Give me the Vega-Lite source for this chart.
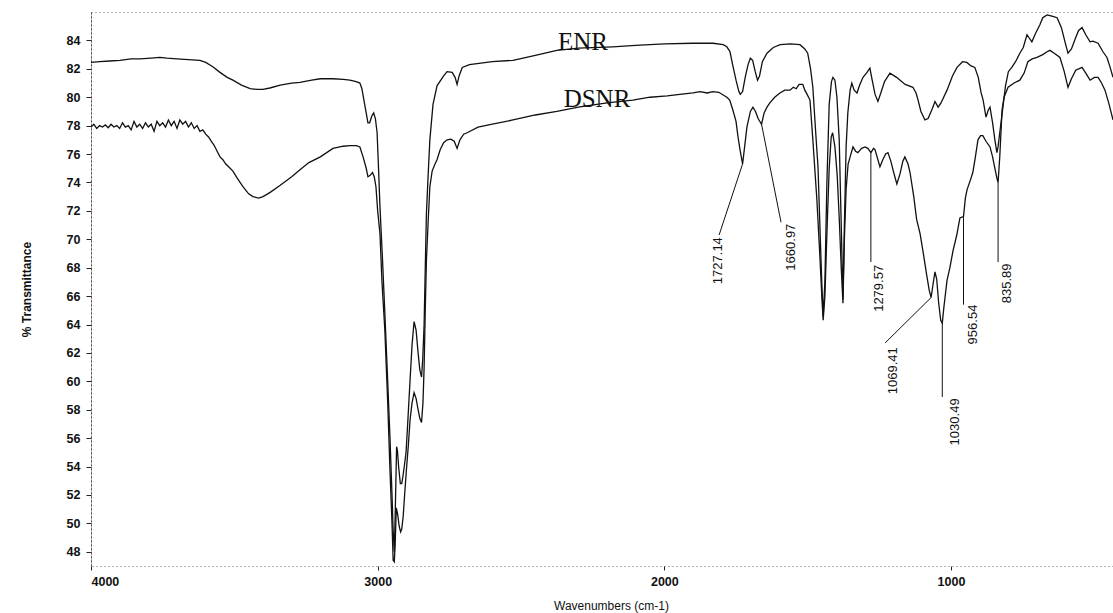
{
  "$schema": "https://vega.github.io/schema/vega-lite/v6.json",
  "width": 1022,
  "height": 554,
  "autosize": {"type": "none"},
  "padding": {"left": 91, "top": 12, "right": 0, "bottom": 47},
  "background": "white",
  "config": {
    "view": {"stroke": "#666", "strokeDash": [1, 3], "strokeWidth": 1},
    "axis": {"grid": false, "labelFont": "Liberation Sans", "titleFont": "Liberation Sans", "labelColor": "#111", "titleColor": "#111", "tickColor": "#222", "domain": false, "labelOverlap": false}
  },
  "datasets": {
    "spectra": [
      {"series": "ENR", "wn": 4000, "t": 82.45}, {"series": "ENR", "wn": 3969, "t": 82.5}, {"series": "ENR", "wn": 3935, "t": 82.55},
      {"series": "ENR", "wn": 3899, "t": 82.6}, {"series": "ENR", "wn": 3860, "t": 82.7}, {"series": "ENR", "wn": 3829, "t": 82.7},
      {"series": "ENR", "wn": 3790, "t": 82.75}, {"series": "ENR", "wn": 3760, "t": 82.8}, {"series": "ENR", "wn": 3735, "t": 82.75},
      {"series": "ENR", "wn": 3700, "t": 82.7}, {"series": "ENR", "wn": 3660, "t": 82.65}, {"series": "ENR", "wn": 3620, "t": 82.6},
      {"series": "ENR", "wn": 3600, "t": 82.45}, {"series": "ENR", "wn": 3575, "t": 82.15}, {"series": "ENR", "wn": 3550, "t": 81.75},
      {"series": "ENR", "wn": 3525, "t": 81.4}, {"series": "ENR", "wn": 3505, "t": 81.2}, {"series": "ENR", "wn": 3475, "t": 80.85},
      {"series": "ENR", "wn": 3445, "t": 80.6}, {"series": "ENR", "wn": 3420, "t": 80.55}, {"series": "ENR", "wn": 3400, "t": 80.55},
      {"series": "ENR", "wn": 3376, "t": 80.65}, {"series": "ENR", "wn": 3340, "t": 80.85}, {"series": "ENR", "wn": 3300, "t": 81.0},
      {"series": "ENR", "wn": 3271, "t": 81.05}, {"series": "ENR", "wn": 3230, "t": 81.2}, {"series": "ENR", "wn": 3200, "t": 81.3},
      {"series": "ENR", "wn": 3156, "t": 81.3}, {"series": "ENR", "wn": 3120, "t": 81.25}, {"series": "ENR", "wn": 3097, "t": 81.2},
      {"series": "ENR", "wn": 3075, "t": 81.1}, {"series": "ENR", "wn": 3062, "t": 81.0}, {"series": "ENR", "wn": 3055, "t": 80.6},
      {"series": "ENR", "wn": 3048, "t": 79.8}, {"series": "ENR", "wn": 3040, "t": 78.9}, {"series": "ENR", "wn": 3034, "t": 78.2},
      {"series": "ENR", "wn": 3028, "t": 78.2}, {"series": "ENR", "wn": 3020, "t": 78.7}, {"series": "ENR", "wn": 3014, "t": 78.9},
      {"series": "ENR", "wn": 3008, "t": 78.5}, {"series": "ENR", "wn": 3002, "t": 77.5}, {"series": "ENR", "wn": 2997, "t": 75.0},
      {"series": "ENR", "wn": 2992, "t": 72.3}, {"series": "ENR", "wn": 2983, "t": 68.5}, {"series": "ENR", "wn": 2975, "t": 64.8},
      {"series": "ENR", "wn": 2965, "t": 60.0}, {"series": "ENR", "wn": 2957, "t": 56.0}, {"series": "ENR", "wn": 2950, "t": 52.0},
      {"series": "ENR", "wn": 2946, "t": 49.5}, {"series": "ENR", "wn": 2942, "t": 48.0}, {"series": "ENR", "wn": 2939, "t": 50.5},
      {"series": "ENR", "wn": 2934, "t": 55.4}, {"series": "ENR", "wn": 2931, "t": 55.1}, {"series": "ENR", "wn": 2927, "t": 54.0},
      {"series": "ENR", "wn": 2921, "t": 52.8}, {"series": "ENR", "wn": 2916, "t": 52.8}, {"series": "ENR", "wn": 2912, "t": 53.3},
      {"series": "ENR", "wn": 2906, "t": 54.2}, {"series": "ENR", "wn": 2901, "t": 55.0}, {"series": "ENR", "wn": 2894, "t": 57.5},
      {"series": "ENR", "wn": 2887, "t": 60.1}, {"series": "ENR", "wn": 2880, "t": 62.6}, {"series": "ENR", "wn": 2873, "t": 64.2},
      {"series": "ENR", "wn": 2866, "t": 63.6}, {"series": "ENR", "wn": 2859, "t": 62.0}, {"series": "ENR", "wn": 2853, "t": 60.8},
      {"series": "ENR", "wn": 2847, "t": 60.3}, {"series": "ENR", "wn": 2843, "t": 61.5}, {"series": "ENR", "wn": 2838, "t": 64.0},
      {"series": "ENR", "wn": 2834, "t": 68.0}, {"series": "ENR", "wn": 2830, "t": 71.8}, {"series": "ENR", "wn": 2824, "t": 74.5},
      {"series": "ENR", "wn": 2818, "t": 77.0}, {"series": "ENR", "wn": 2807, "t": 79.5}, {"series": "ENR", "wn": 2793, "t": 80.8},
      {"series": "ENR", "wn": 2770, "t": 81.5}, {"series": "ENR", "wn": 2758, "t": 81.8}, {"series": "ENR", "wn": 2740, "t": 81.75},
      {"series": "ENR", "wn": 2730, "t": 81.4}, {"series": "ENR", "wn": 2723, "t": 80.9}, {"series": "ENR", "wn": 2716, "t": 81.5},
      {"series": "ENR", "wn": 2705, "t": 82.1}, {"series": "ENR", "wn": 2680, "t": 82.3}, {"series": "ENR", "wn": 2640, "t": 82.4},
      {"series": "ENR", "wn": 2600, "t": 82.5}, {"series": "ENR", "wn": 2528, "t": 82.6}, {"series": "ENR", "wn": 2450, "t": 82.95},
      {"series": "ENR", "wn": 2375, "t": 83.3}, {"series": "ENR", "wn": 2300, "t": 83.45}, {"series": "ENR", "wn": 2180, "t": 83.55},
      {"series": "ENR", "wn": 2100, "t": 83.65}, {"series": "ENR", "wn": 2000, "t": 83.75}, {"series": "ENR", "wn": 1900, "t": 83.8},
      {"series": "ENR", "wn": 1830, "t": 83.8}, {"series": "ENR", "wn": 1795, "t": 83.7}, {"series": "ENR", "wn": 1782, "t": 83.55},
      {"series": "ENR", "wn": 1771, "t": 83.2}, {"series": "ENR", "wn": 1761, "t": 82.2}, {"series": "ENR", "wn": 1750, "t": 81.2},
      {"series": "ENR", "wn": 1740, "t": 80.4}, {"series": "ENR", "wn": 1735, "t": 80.2}, {"series": "ENR", "wn": 1727, "t": 80.4},
      {"series": "ENR", "wn": 1718, "t": 81.4}, {"series": "ENR", "wn": 1708, "t": 82.3}, {"series": "ENR", "wn": 1700, "t": 82.75},
      {"series": "ENR", "wn": 1692, "t": 82.6}, {"series": "ENR", "wn": 1683, "t": 81.8}, {"series": "ENR", "wn": 1675, "t": 81.2},
      {"series": "ENR", "wn": 1668, "t": 81.5}, {"series": "ENR", "wn": 1658, "t": 82.5}, {"series": "ENR", "wn": 1642, "t": 83.1},
      {"series": "ENR", "wn": 1620, "t": 83.5}, {"series": "ENR", "wn": 1596, "t": 83.7}, {"series": "ENR", "wn": 1560, "t": 83.75},
      {"series": "ENR", "wn": 1527, "t": 83.7}, {"series": "ENR", "wn": 1510, "t": 83.4}, {"series": "ENR", "wn": 1500, "t": 83.1},
      {"series": "ENR", "wn": 1490, "t": 82.0}, {"series": "ENR", "wn": 1482, "t": 80.7}, {"series": "ENR", "wn": 1472, "t": 77.5},
      {"series": "ENR", "wn": 1464, "t": 75.1}, {"series": "ENR", "wn": 1456, "t": 70.0}, {"series": "ENR", "wn": 1450, "t": 66.5},
      {"series": "ENR", "wn": 1446, "t": 64.6}, {"series": "ENR", "wn": 1440, "t": 67.0}, {"series": "ENR", "wn": 1433, "t": 74.0},
      {"series": "ENR", "wn": 1425, "t": 79.5}, {"series": "ENR", "wn": 1417, "t": 81.1}, {"series": "ENR", "wn": 1412, "t": 81.4},
      {"series": "ENR", "wn": 1405, "t": 81.2}, {"series": "ENR", "wn": 1398, "t": 80.0}, {"series": "ENR", "wn": 1390, "t": 77.0},
      {"series": "ENR", "wn": 1383, "t": 71.0}, {"series": "ENR", "wn": 1377, "t": 65.8}, {"series": "ENR", "wn": 1372, "t": 71.0},
      {"series": "ENR", "wn": 1366, "t": 76.5}, {"series": "ENR", "wn": 1360, "t": 78.9}, {"series": "ENR", "wn": 1352, "t": 80.5},
      {"series": "ENR", "wn": 1346, "t": 81.0}, {"series": "ENR", "wn": 1338, "t": 80.5}, {"series": "ENR", "wn": 1328, "t": 80.3},
      {"series": "ENR", "wn": 1318, "t": 80.9}, {"series": "ENR", "wn": 1307, "t": 81.4}, {"series": "ENR", "wn": 1295, "t": 81.7},
      {"series": "ENR", "wn": 1283, "t": 82.05}, {"series": "ENR", "wn": 1275, "t": 81.2}, {"series": "ENR", "wn": 1265, "t": 80.2},
      {"series": "ENR", "wn": 1255, "t": 79.7}, {"series": "ENR", "wn": 1245, "t": 80.3}, {"series": "ENR", "wn": 1232, "t": 81.1},
      {"series": "ENR", "wn": 1213, "t": 81.7}, {"series": "ENR", "wn": 1190, "t": 81.4}, {"series": "ENR", "wn": 1160, "t": 80.9},
      {"series": "ENR", "wn": 1133, "t": 80.7}, {"series": "ENR", "wn": 1122, "t": 80.3}, {"series": "ENR", "wn": 1115, "t": 79.8},
      {"series": "ENR", "wn": 1105, "t": 79.0}, {"series": "ENR", "wn": 1091, "t": 78.4}, {"series": "ENR", "wn": 1080, "t": 78.5},
      {"series": "ENR", "wn": 1065, "t": 79.2}, {"series": "ENR", "wn": 1056, "t": 79.7}, {"series": "ENR", "wn": 1045, "t": 79.3},
      {"series": "ENR", "wn": 1035, "t": 79.6}, {"series": "ENR", "wn": 1014, "t": 80.5}, {"series": "ENR", "wn": 995, "t": 81.5},
      {"series": "ENR", "wn": 979, "t": 82.1}, {"series": "ENR", "wn": 960, "t": 82.5}, {"series": "ENR", "wn": 945, "t": 82.45},
      {"series": "ENR", "wn": 930, "t": 82.2}, {"series": "ENR", "wn": 917, "t": 82.1}, {"series": "ENR", "wn": 905, "t": 81.4},
      {"series": "ENR", "wn": 895, "t": 80.3}, {"series": "ENR", "wn": 888, "t": 79.8}, {"series": "ENR", "wn": 878, "t": 78.6},
      {"series": "ENR", "wn": 870, "t": 79.1}, {"series": "ENR", "wn": 864, "t": 79.3}, {"series": "ENR", "wn": 855, "t": 78.2},
      {"series": "ENR", "wn": 847, "t": 77.0}, {"series": "ENR", "wn": 840, "t": 76.1}, {"series": "ENR", "wn": 836, "t": 76.5},
      {"series": "ENR", "wn": 830, "t": 77.5}, {"series": "ENR", "wn": 819, "t": 79.3}, {"series": "ENR", "wn": 810, "t": 80.8},
      {"series": "ENR", "wn": 800, "t": 81.8}, {"series": "ENR", "wn": 788, "t": 82.1}, {"series": "ENR", "wn": 775, "t": 82.5},
      {"series": "ENR", "wn": 760, "t": 83.1}, {"series": "ENR", "wn": 748, "t": 83.5}, {"series": "ENR", "wn": 735, "t": 84.4},
      {"series": "ENR", "wn": 725, "t": 84.1}, {"series": "ENR", "wn": 718, "t": 83.9}, {"series": "ENR", "wn": 705, "t": 84.5},
      {"series": "ENR", "wn": 690, "t": 85.1}, {"series": "ENR", "wn": 680, "t": 85.6}, {"series": "ENR", "wn": 665, "t": 85.8},
      {"series": "ENR", "wn": 655, "t": 85.75}, {"series": "ENR", "wn": 645, "t": 85.7}, {"series": "ENR", "wn": 630, "t": 85.6},
      {"series": "ENR", "wn": 615, "t": 84.9}, {"series": "ENR", "wn": 600, "t": 83.7}, {"series": "ENR", "wn": 592, "t": 83.1},
      {"series": "ENR", "wn": 580, "t": 83.4}, {"series": "ENR", "wn": 565, "t": 84.2}, {"series": "ENR", "wn": 555, "t": 84.7},
      {"series": "ENR", "wn": 543, "t": 84.9}, {"series": "ENR", "wn": 530, "t": 84.4}, {"series": "ENR", "wn": 515, "t": 83.9},
      {"series": "ENR", "wn": 505, "t": 83.95}, {"series": "ENR", "wn": 487, "t": 83.8}, {"series": "ENR", "wn": 470, "t": 83.2},
      {"series": "ENR", "wn": 456, "t": 82.8}, {"series": "ENR", "wn": 445, "t": 82.1}, {"series": "ENR", "wn": 435, "t": 81.4},

      {"series": "DSNR", "wn": 4000, "t": 77.9}, {"series": "DSNR", "wn": 3990, "t": 78.1}, {"series": "DSNR", "wn": 3980, "t": 77.8},
      {"series": "DSNR", "wn": 3970, "t": 78.0}, {"series": "DSNR", "wn": 3960, "t": 77.9}, {"series": "DSNR", "wn": 3950, "t": 78.05},
      {"series": "DSNR", "wn": 3940, "t": 77.85}, {"series": "DSNR", "wn": 3930, "t": 78.1}, {"series": "DSNR", "wn": 3920, "t": 77.9},
      {"series": "DSNR", "wn": 3910, "t": 78.0}, {"series": "DSNR", "wn": 3900, "t": 77.8}, {"series": "DSNR", "wn": 3890, "t": 78.2},
      {"series": "DSNR", "wn": 3880, "t": 77.9}, {"series": "DSNR", "wn": 3870, "t": 78.0}, {"series": "DSNR", "wn": 3860, "t": 77.7},
      {"series": "DSNR", "wn": 3850, "t": 78.3}, {"series": "DSNR", "wn": 3840, "t": 77.9}, {"series": "DSNR", "wn": 3830, "t": 78.1},
      {"series": "DSNR", "wn": 3820, "t": 77.8}, {"series": "DSNR", "wn": 3810, "t": 78.2}, {"series": "DSNR", "wn": 3800, "t": 77.9},
      {"series": "DSNR", "wn": 3790, "t": 78.1}, {"series": "DSNR", "wn": 3780, "t": 77.6}, {"series": "DSNR", "wn": 3770, "t": 78.3},
      {"series": "DSNR", "wn": 3760, "t": 78.0}, {"series": "DSNR", "wn": 3750, "t": 78.2}, {"series": "DSNR", "wn": 3740, "t": 77.9},
      {"series": "DSNR", "wn": 3730, "t": 78.4}, {"series": "DSNR", "wn": 3720, "t": 78.0}, {"series": "DSNR", "wn": 3710, "t": 78.3},
      {"series": "DSNR", "wn": 3700, "t": 77.8}, {"series": "DSNR", "wn": 3690, "t": 78.4}, {"series": "DSNR", "wn": 3680, "t": 78.1},
      {"series": "DSNR", "wn": 3670, "t": 78.3}, {"series": "DSNR", "wn": 3660, "t": 77.9}, {"series": "DSNR", "wn": 3650, "t": 78.2},
      {"series": "DSNR", "wn": 3640, "t": 77.8}, {"series": "DSNR", "wn": 3630, "t": 78.0}, {"series": "DSNR", "wn": 3620, "t": 77.6},
      {"series": "DSNR", "wn": 3610, "t": 77.7}, {"series": "DSNR", "wn": 3600, "t": 77.4}, {"series": "DSNR", "wn": 3590, "t": 77.2},
      {"series": "DSNR", "wn": 3580, "t": 76.9}, {"series": "DSNR", "wn": 3570, "t": 76.6}, {"series": "DSNR", "wn": 3560, "t": 76.2},
      {"series": "DSNR", "wn": 3550, "t": 75.8}, {"series": "DSNR", "wn": 3540, "t": 75.6}, {"series": "DSNR", "wn": 3530, "t": 75.3},
      {"series": "DSNR", "wn": 3520, "t": 75.1}, {"series": "DSNR", "wn": 3505, "t": 74.8}, {"series": "DSNR", "wn": 3490, "t": 74.3},
      {"series": "DSNR", "wn": 3470, "t": 73.7}, {"series": "DSNR", "wn": 3450, "t": 73.2}, {"series": "DSNR", "wn": 3435, "t": 73.0},
      {"series": "DSNR", "wn": 3415, "t": 72.9}, {"series": "DSNR", "wn": 3400, "t": 73.0}, {"series": "DSNR", "wn": 3375, "t": 73.3},
      {"series": "DSNR", "wn": 3340, "t": 73.8}, {"series": "DSNR", "wn": 3300, "t": 74.4}, {"series": "DSNR", "wn": 3271, "t": 74.9},
      {"series": "DSNR", "wn": 3240, "t": 75.4}, {"series": "DSNR", "wn": 3200, "t": 75.8}, {"series": "DSNR", "wn": 3156, "t": 76.4},
      {"series": "DSNR", "wn": 3120, "t": 76.55}, {"series": "DSNR", "wn": 3097, "t": 76.6}, {"series": "DSNR", "wn": 3075, "t": 76.6},
      {"series": "DSNR", "wn": 3062, "t": 76.5}, {"series": "DSNR", "wn": 3051, "t": 75.8}, {"series": "DSNR", "wn": 3040, "t": 75.0},
      {"series": "DSNR", "wn": 3034, "t": 74.4}, {"series": "DSNR", "wn": 3026, "t": 74.5}, {"series": "DSNR", "wn": 3018, "t": 74.7},
      {"series": "DSNR", "wn": 3012, "t": 74.4}, {"series": "DSNR", "wn": 3006, "t": 73.7}, {"series": "DSNR", "wn": 3000, "t": 72.0},
      {"series": "DSNR", "wn": 2992, "t": 70.4}, {"series": "DSNR", "wn": 2985, "t": 67.0}, {"series": "DSNR", "wn": 2975, "t": 63.6},
      {"series": "DSNR", "wn": 2965, "t": 58.5}, {"series": "DSNR", "wn": 2957, "t": 53.7}, {"series": "DSNR", "wn": 2950, "t": 50.0},
      {"series": "DSNR", "wn": 2946, "t": 47.4}, {"series": "DSNR", "wn": 2942, "t": 47.3}, {"series": "DSNR", "wn": 2939, "t": 48.5},
      {"series": "DSNR", "wn": 2935, "t": 51.1}, {"series": "DSNR", "wn": 2930, "t": 50.6}, {"series": "DSNR", "wn": 2925, "t": 49.8},
      {"series": "DSNR", "wn": 2920, "t": 49.4}, {"series": "DSNR", "wn": 2916, "t": 49.6}, {"series": "DSNR", "wn": 2911, "t": 50.5},
      {"series": "DSNR", "wn": 2906, "t": 52.0}, {"series": "DSNR", "wn": 2900, "t": 53.7}, {"series": "DSNR", "wn": 2893, "t": 55.5},
      {"series": "DSNR", "wn": 2887, "t": 57.3}, {"series": "DSNR", "wn": 2880, "t": 58.5}, {"series": "DSNR", "wn": 2873, "t": 59.2},
      {"series": "DSNR", "wn": 2866, "t": 58.8}, {"series": "DSNR", "wn": 2859, "t": 58.0}, {"series": "DSNR", "wn": 2853, "t": 57.4},
      {"series": "DSNR", "wn": 2847, "t": 57.1}, {"series": "DSNR", "wn": 2842, "t": 58.5}, {"series": "DSNR", "wn": 2838, "t": 61.0},
      {"series": "DSNR", "wn": 2834, "t": 65.0}, {"series": "DSNR", "wn": 2830, "t": 68.5}, {"series": "DSNR", "wn": 2824, "t": 71.2},
      {"series": "DSNR", "wn": 2818, "t": 73.7}, {"series": "DSNR", "wn": 2810, "t": 74.8}, {"series": "DSNR", "wn": 2800, "t": 75.3},
      {"series": "DSNR", "wn": 2793, "t": 75.6}, {"series": "DSNR", "wn": 2782, "t": 76.3}, {"series": "DSNR", "wn": 2770, "t": 76.8},
      {"series": "DSNR", "wn": 2758, "t": 77.0}, {"series": "DSNR", "wn": 2745, "t": 77.05}, {"series": "DSNR", "wn": 2733, "t": 76.9},
      {"series": "DSNR", "wn": 2723, "t": 76.4}, {"series": "DSNR", "wn": 2713, "t": 77.0}, {"series": "DSNR", "wn": 2700, "t": 77.4},
      {"series": "DSNR", "wn": 2688, "t": 77.5}, {"series": "DSNR", "wn": 2650, "t": 77.9}, {"series": "DSNR", "wn": 2600, "t": 78.1},
      {"series": "DSNR", "wn": 2528, "t": 78.4}, {"series": "DSNR", "wn": 2450, "t": 78.75}, {"series": "DSNR", "wn": 2375, "t": 79.0},
      {"series": "DSNR", "wn": 2300, "t": 79.3}, {"series": "DSNR", "wn": 2200, "t": 79.6}, {"series": "DSNR", "wn": 2110, "t": 79.8},
      {"series": "DSNR", "wn": 2050, "t": 80.0}, {"series": "DSNR", "wn": 1990, "t": 80.1}, {"series": "DSNR", "wn": 1946, "t": 80.2},
      {"series": "DSNR", "wn": 1900, "t": 80.3}, {"series": "DSNR", "wn": 1876, "t": 80.4}, {"series": "DSNR", "wn": 1850, "t": 80.3},
      {"series": "DSNR", "wn": 1831, "t": 80.4}, {"series": "DSNR", "wn": 1810, "t": 80.35}, {"series": "DSNR", "wn": 1782, "t": 80.0},
      {"series": "DSNR", "wn": 1772, "t": 79.8}, {"series": "DSNR", "wn": 1761, "t": 79.1}, {"series": "DSNR", "wn": 1750, "t": 78.3},
      {"series": "DSNR", "wn": 1743, "t": 77.2}, {"series": "DSNR", "wn": 1736, "t": 76.3}, {"series": "DSNR", "wn": 1727.14, "t": 75.3},
      {"series": "DSNR", "wn": 1720, "t": 76.5}, {"series": "DSNR", "wn": 1712, "t": 77.9}, {"series": "DSNR", "wn": 1700, "t": 79.0},
      {"series": "DSNR", "wn": 1691, "t": 79.3}, {"series": "DSNR", "wn": 1682, "t": 79.0}, {"series": "DSNR", "wn": 1673, "t": 78.5},
      {"series": "DSNR", "wn": 1660.97, "t": 78.1}, {"series": "DSNR", "wn": 1652, "t": 78.9}, {"series": "DSNR", "wn": 1642, "t": 79.3},
      {"series": "DSNR", "wn": 1632, "t": 79.6}, {"series": "DSNR", "wn": 1615, "t": 80.0}, {"series": "DSNR", "wn": 1597, "t": 80.3},
      {"series": "DSNR", "wn": 1580, "t": 80.5}, {"series": "DSNR", "wn": 1562, "t": 80.5}, {"series": "DSNR", "wn": 1550, "t": 80.7},
      {"series": "DSNR", "wn": 1540, "t": 80.6}, {"series": "DSNR", "wn": 1530, "t": 80.9}, {"series": "DSNR", "wn": 1517, "t": 80.9},
      {"series": "DSNR", "wn": 1510, "t": 80.5}, {"series": "DSNR", "wn": 1502, "t": 80.2}, {"series": "DSNR", "wn": 1492, "t": 79.8},
      {"series": "DSNR", "wn": 1482, "t": 77.0}, {"series": "DSNR", "wn": 1468, "t": 72.8}, {"series": "DSNR", "wn": 1458, "t": 69.0},
      {"series": "DSNR", "wn": 1450, "t": 65.7}, {"series": "DSNR", "wn": 1446, "t": 64.3}, {"series": "DSNR", "wn": 1440, "t": 66.0},
      {"series": "DSNR", "wn": 1432, "t": 71.0}, {"series": "DSNR", "wn": 1425, "t": 75.0}, {"series": "DSNR", "wn": 1418, "t": 77.2},
      {"series": "DSNR", "wn": 1413, "t": 77.5}, {"series": "DSNR", "wn": 1405, "t": 76.5}, {"series": "DSNR", "wn": 1397, "t": 74.5},
      {"series": "DSNR", "wn": 1390, "t": 71.5}, {"series": "DSNR", "wn": 1383, "t": 68.0}, {"series": "DSNR", "wn": 1377, "t": 65.5},
      {"series": "DSNR", "wn": 1372, "t": 70.0}, {"series": "DSNR", "wn": 1366, "t": 73.5}, {"series": "DSNR", "wn": 1359, "t": 75.3},
      {"series": "DSNR", "wn": 1352, "t": 75.8}, {"series": "DSNR", "wn": 1342, "t": 76.5}, {"series": "DSNR", "wn": 1333, "t": 76.2},
      {"series": "DSNR", "wn": 1325, "t": 76.1}, {"series": "DSNR", "wn": 1312, "t": 76.4}, {"series": "DSNR", "wn": 1300, "t": 76.5},
      {"series": "DSNR", "wn": 1290, "t": 76.4}, {"series": "DSNR", "wn": 1279.57, "t": 76.1}, {"series": "DSNR", "wn": 1270, "t": 76.4},
      {"series": "DSNR", "wn": 1265, "t": 76.3}, {"series": "DSNR", "wn": 1255, "t": 75.6}, {"series": "DSNR", "wn": 1248, "t": 75.1},
      {"series": "DSNR", "wn": 1238, "t": 75.6}, {"series": "DSNR", "wn": 1228, "t": 76.0}, {"series": "DSNR", "wn": 1220, "t": 76.1},
      {"series": "DSNR", "wn": 1210, "t": 75.5}, {"series": "DSNR", "wn": 1200, "t": 74.7}, {"series": "DSNR", "wn": 1189, "t": 73.9},
      {"series": "DSNR", "wn": 1178, "t": 74.6}, {"series": "DSNR", "wn": 1168, "t": 75.5}, {"series": "DSNR", "wn": 1161, "t": 75.8},
      {"series": "DSNR", "wn": 1150, "t": 75.3}, {"series": "DSNR", "wn": 1143, "t": 74.7}, {"series": "DSNR", "wn": 1130, "t": 73.0},
      {"series": "DSNR", "wn": 1120, "t": 71.4}, {"series": "DSNR", "wn": 1108, "t": 70.4}, {"series": "DSNR", "wn": 1095, "t": 68.8},
      {"series": "DSNR", "wn": 1085, "t": 67.5}, {"series": "DSNR", "wn": 1076, "t": 66.4}, {"series": "DSNR", "wn": 1069.41, "t": 65.9},
      {"series": "DSNR", "wn": 1063, "t": 66.8}, {"series": "DSNR", "wn": 1056, "t": 67.7}, {"series": "DSNR", "wn": 1050, "t": 67.2},
      {"series": "DSNR", "wn": 1043, "t": 65.5}, {"series": "DSNR", "wn": 1036, "t": 64.3}, {"series": "DSNR", "wn": 1030.49, "t": 64.1},
      {"series": "DSNR", "wn": 1025, "t": 65.2}, {"series": "DSNR", "wn": 1014, "t": 67.1}, {"series": "DSNR", "wn": 1004, "t": 68.0},
      {"series": "DSNR", "wn": 993, "t": 69.2}, {"series": "DSNR", "wn": 980, "t": 70.3}, {"series": "DSNR", "wn": 969, "t": 71.5},
      {"series": "DSNR", "wn": 956.54, "t": 71.6}, {"series": "DSNR", "wn": 950, "t": 72.9}, {"series": "DSNR", "wn": 944, "t": 73.5},
      {"series": "DSNR", "wn": 932, "t": 74.2}, {"series": "DSNR", "wn": 924, "t": 74.7}, {"series": "DSNR", "wn": 915, "t": 75.8},
      {"series": "DSNR", "wn": 906, "t": 77.0}, {"series": "DSNR", "wn": 897, "t": 77.3}, {"series": "DSNR", "wn": 889, "t": 77.3},
      {"series": "DSNR", "wn": 878, "t": 76.9}, {"series": "DSNR", "wn": 864, "t": 76.5}, {"series": "DSNR", "wn": 855, "t": 75.8},
      {"series": "DSNR", "wn": 847, "t": 75.0}, {"series": "DSNR", "wn": 840, "t": 74.3}, {"series": "DSNR", "wn": 835.89, "t": 74.0},
      {"series": "DSNR", "wn": 830, "t": 75.8}, {"series": "DSNR", "wn": 822, "t": 79.1}, {"series": "DSNR", "wn": 815, "t": 80.0},
      {"series": "DSNR", "wn": 801, "t": 80.7}, {"series": "DSNR", "wn": 780, "t": 81.0}, {"series": "DSNR", "wn": 760, "t": 81.2},
      {"series": "DSNR", "wn": 745, "t": 81.7}, {"series": "DSNR", "wn": 732, "t": 82.5}, {"series": "DSNR", "wn": 717, "t": 82.7},
      {"series": "DSNR", "wn": 700, "t": 82.8}, {"series": "DSNR", "wn": 680, "t": 83.0}, {"series": "DSNR", "wn": 665, "t": 83.2},
      {"series": "DSNR", "wn": 655, "t": 83.3}, {"series": "DSNR", "wn": 640, "t": 83.1}, {"series": "DSNR", "wn": 620, "t": 82.8},
      {"series": "DSNR", "wn": 605, "t": 81.8}, {"series": "DSNR", "wn": 592, "t": 80.7}, {"series": "DSNR", "wn": 580, "t": 81.3},
      {"series": "DSNR", "wn": 565, "t": 81.9}, {"series": "DSNR", "wn": 543, "t": 82.1}, {"series": "DSNR", "wn": 530, "t": 81.7},
      {"series": "DSNR", "wn": 515, "t": 81.2}, {"series": "DSNR", "wn": 500, "t": 81.4}, {"series": "DSNR", "wn": 487, "t": 81.4},
      {"series": "DSNR", "wn": 475, "t": 81.0}, {"series": "DSNR", "wn": 463, "t": 80.5}, {"series": "DSNR", "wn": 450, "t": 79.6},
      {"series": "DSNR", "wn": 435, "t": 78.4}
    ],
    "leaders": [
      {"label": "1727.14", "wn": 1727.14, "t": 75.3, "wn2": 1809, "t2": 70.3},
      {"label": "1660.97", "wn": 1660.97, "t": 78.1, "wn2": 1593, "t2": 71.2},
      {"label": "1279.57", "wn": 1279.57, "t": 76.1, "wn2": 1279.57, "t2": 68.4},
      {"label": "1069.41", "wn": 1069.41, "t": 65.9, "wn2": 1230, "t2": 62.7},
      {"label": "1030.49", "wn": 1030.49, "t": 64.1, "wn2": 1030.49, "t2": 58.9},
      {"label": "956.54", "wn": 956.54, "t": 71.6, "wn2": 956.54, "t2": 65.4},
      {"label": "835.89", "wn": 835.89, "t": 74.0, "wn2": 835.89, "t2": 68.4}
    ],
    "peakLabels": [
      {"label": "1727.14", "wn": 1813, "t": 70.15},
      {"label": "1660.97", "wn": 1558, "t": 71.1},
      {"label": "1279.57", "wn": 1251, "t": 68.2},
      {"label": "1069.41", "wn": 1203, "t": 62.4},
      {"label": "1030.49", "wn": 986, "t": 58.8},
      {"label": "956.54", "wn": 924, "t": 65.4},
      {"label": "835.89", "wn": 805, "t": 68.3}
    ],
    "names": [
      {"name": "ENR", "wn": 2284, "t": 83.3},
      {"name": "DSNR", "wn": 2235, "t": 79.3}
    ]
  },
  "encoding": {
    "x": {
      "field": "wn", "type": "quantitative",
      "scale": {"domain": [435, 4000], "reverse": true, "nice": false, "zero": false},
      "axis": {
        "values": [4000, 3000, 2000, 1000], "format": "d", "labelOverlap": false,
        "labelFontSize": 12.5, "labelFontWeight": "bold", "tickSize": 4, "labelPadding": 5,
        "title": "Wavenumbers (cm-1)", "titleFontSize": 12, "titleFontWeight": "normal",
        "titleX": 520, "titleY": 39, "titleBaseline": "middle"
      }
    },
    "y": {
      "field": "t", "type": "quantitative",
      "scale": {"domain": [47, 86], "nice": false, "zero": false},
      "axis": {
        "values": [48, 50, 52, 54, 56, 58, 60, 62, 64, 66, 68, 70, 72, 74, 76, 78, 80, 82, 84],
        "labelOverlap": false, "labelSeparation": 0,
        "labelFontSize": 12.5, "labelFontWeight": "bold", "tickSize": 5, "labelPadding": 6,
        "domain": true, "domainDash": [2, 2], "domainColor": "#444",
        "title": "% Transmittance", "titleFontSize": 12, "titleFontWeight": "bold",
        "titleX": -65, "titleY": 277, "titleAlign": "center", "titleBaseline": "middle"
      }
    }
  },
  "layer": [
    {
      "data": {"name": "spectra"},
      "mark": {"type": "line", "color": "#111", "strokeWidth": 1.3, "interpolate": "linear"},
      "encoding": {"detail": {"field": "series"}}
    },
    {
      "data": {"name": "leaders"},
      "mark": {"type": "rule", "color": "#111", "strokeWidth": 1},
      "encoding": {
        "x2": {"field": "wn2"},
        "y2": {"field": "t2"}
      }
    },
    {
      "data": {"name": "peakLabels"},
      "mark": {"type": "text", "angle": 270, "align": "right", "baseline": "middle", "font": "Liberation Sans", "fontSize": 13, "color": "#111"},
      "encoding": {"text": {"field": "label"}}
    },
    {
      "data": {"name": "names"},
      "mark": {"type": "text", "align": "center", "baseline": "alphabetic", "font": "Liberation Serif", "fontSize": 25, "color": "#111"},
      "encoding": {"text": {"field": "name"}}
    }
  ]
}
